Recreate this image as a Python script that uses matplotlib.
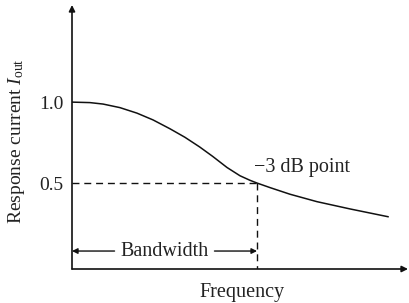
import matplotlib.pyplot as plt

plt.rcParams['font.family'] = ['Liberation Serif', 'DejaVu Serif']
plt.rcParams['mathtext.fontset'] = 'custom'
plt.rcParams['mathtext.rm'] = 'Liberation Serif'
plt.rcParams['mathtext.it'] = 'Liberation Serif:italic'

# response curve (frequency normalised to the -3 dB point)
freq = [0.0, 0.097, 0.168, 0.259, 0.351, 0.438, 0.530, 0.610, 0.690, 0.760,
        0.838, 0.908, 0.962, 1.0, 1.070, 1.178, 1.324, 1.503, 1.708]
resp = [1.0, 0.997, 0.988, 0.966, 0.932, 0.890, 0.835, 0.783, 0.723, 0.665,
        0.596, 0.545, 0.517, 0.5, 0.472, 0.431, 0.385, 0.340, 0.292]
f3db = 1.0
half = 0.5
yticks = [0.5, 1.0]
ytick_labels = ["0.5", "1.0"]

W, H = 409, 303
fig = plt.figure(figsize=(W / 100, H / 100), dpi=100)
ax = fig.add_axes([72 / W, (H - 269) / H, (408 - 72) / W, (269 - 5) / H])
ax.set_xlim(0, 1.816)
ax.set_ylim(-0.031, 1.6)

ax.plot(freq, resp, color='#111111', lw=1.1)

# dashed guides to the -3 dB point
ax.plot([0, f3db], [half, half], color='#111111', lw=1, ls=(0, (5, 3.5)))
ax.plot([f3db, f3db], [half, -0.031], color='#111111', lw=1, ls=(0, (5, 3.5)))

for s in ax.spines.values():
    s.set_visible(False)
ax.set_xticks([])
ax.set_yticks(yticks)
ax.set_yticklabels(ytick_labels, fontsize=14, color='#222222')
ax.tick_params(axis='y', length=0, pad=6)

# axes with arrow heads
ax.annotate('', xy=(1.0, 0), xytext=(0, 0), xycoords='axes fraction',
            arrowprops=dict(arrowstyle='-|>', color='#111111', lw=1.2,
                            mutation_scale=9, shrinkA=0, shrinkB=0))
ax.annotate('', xy=(0, 1.0), xytext=(0, 0), xycoords='axes fraction',
            arrowprops=dict(arrowstyle='-|>', color='#111111', lw=1.2,
                            mutation_scale=9, shrinkA=0, shrinkB=0))

# bandwidth arrows
ybw = 0.08
ax.annotate('', xy=(0, ybw), xytext=(0.23, ybw),
            arrowprops=dict(arrowstyle='-|>', color='#111111', lw=1,
                            mutation_scale=8, shrinkA=0, shrinkB=0))
ax.annotate('', xy=(f3db, ybw), xytext=(0.77, ybw),
            arrowprops=dict(arrowstyle='-|>', color='#111111', lw=1,
                            mutation_scale=8, shrinkA=0, shrinkB=0))
ax.text(0.5, ybw, "Bandwidth", ha='center', va='center', fontsize=14.5, color='#222222')

ax.text(0.985, 0.57, "\u22123 dB point", ha='left', va='baseline', fontsize=14.5,
        color='#222222')

fig.text(242 / W, 1 - 293 / H, "Frequency", ha='center', va='center', fontsize=14.5,
         color='#222222')
fig.text(17 / W, 1 - 141 / H, r"Response current $\mathit{I}_{\rm out}$",
         rotation=90, ha='center', va='center', fontsize=14, color='#222222')

fig.savefig("out.png", dpi=100)
